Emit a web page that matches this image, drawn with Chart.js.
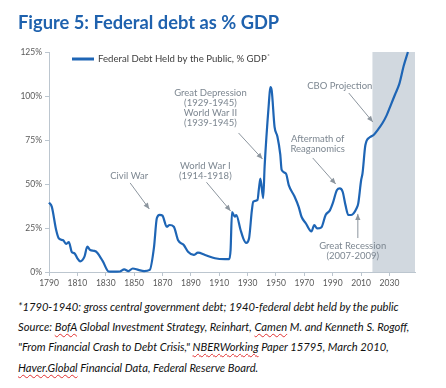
<!DOCTYPE html>
<html>
<head>
<meta charset="utf-8">
<script src="https://cdn.jsdelivr.net/npm/chart.js@4.4.1/dist/chart.umd.min.js"></script>
<style>
  html, body { margin: 0; padding: 0; background: #fff; }
  body { width: 446px; height: 388px; position: relative; overflow: hidden; font-family: Lato, "Open Sans", sans-serif; }
  #title { position: absolute; left: 18px; top: 11px; font: bold 18.3px Lato, sans-serif; color: #1F62AE; white-space: nowrap; }
  #wrap { position: absolute; left: 0; top: 0; width: 446px; height: 292px; }
  #notes { position: absolute; left: 18px; top: 297px; font: italic 11.2px Lato, sans-serif; color: #111; line-height: 20.2px; white-space: nowrap; }
  .sp { text-decoration: underline wavy #e03030; text-decoration-thickness: 1px; text-underline-offset: 2px; }
</style>
</head>
<body>
<div id="wrap"><canvas id="c"></canvas></div>
<div id="title">Figure 5: Federal debt as % GDP</div>
<div id="notes">
  <div>*1790-1940: gross central government debt; 1940-federal debt held by the public</div>
  <div>Source: <span class="sp">BofA</span> Global Investment Strategy, Reinhart, <span class="sp">Camen</span> M. and Kenneth S. Rogoff,</div>
  <div>"From Financial Crash to Debt Crisis," <span class="sp">NBERWorking</span> Paper 15795, March 2010,</div>
  <div><span class="sp">Haver.Global</span> Financial Data, Federal Reserve Board.</div>
</div>
<script>
// ---- data ----
const seriesLabel = "Federal Debt Held by the Public, % GDP";
const years = [1790,1792,1795,1797,1800,1802,1804,1806,1808,1810,1812,1815,1817,1819,1822,1824,1828,1832,1835,1840,1843,1846,1849,1853,1857,1861,1864,1866,1868,1870,1873,1875,1878,1881,1885,1888,1892,1895,1900,1907,1914,1917,1918,1919,1921,1922,1925,1927,1929,1931,1933,1934,1937,1938,1939,1941,1942,1945,1946,1947,1949,1951,1953,1954,1957,1959,1963,1966,1968,1971,1975,1977,1979,1982,1985,1988,1990,1993,1995,1997,1999,2001,2003,2007,2008,2010,2011,2013,2016,2017,2019,2022,2025,2028,2031,2034,2037,2040,2043];
const debtPct = [39.4,37,24,19,18,16,17,11.5,10.6,7.8,6,8.7,14.4,12.5,12,11,6,0.3,0.2,0.3,1.5,0.5,2,1.2,0.5,1.2,14,30.5,32.5,32,25.7,26.7,25.7,18,15.3,11.5,9.7,11,9.7,7.8,7.3,7.3,12.5,34,31.4,32.4,24,19,16.5,19,35,40,41,47.5,53,42,60,96,105,103,82.5,77,67,58,56,49.4,43,37,31.4,27.7,23,26.7,24.8,25.4,32.4,35,39,46.6,47.5,45.6,38,32.4,32.4,36.5,39,52,56,72,76.5,77,78,81,84.5,89,95,101,107,117,125];
const xTickLabels = [1790,1810,1830,1850,1870,1890,1910,1930,1950,1970,1990,2010,2030];
const yTickLabels = [0,25,50,75,100,125];
const projectionStart = 2018;
const projectionEnd = 2048;

// annotation texts, anchored in data coordinates (year, %)
const annotations = [
  { lines: ["Civil War"], at: [1846.5, 54.5], arrow: [[1847.2, 50.6], [1860.7, 35.8]] },
  { lines: ["World War I", "(1914-1918)"], at: [1900.2, 60.2], arrow: [[1901, 51], [1918, 34.7]] },
  { lines: ["Great Depression", "(1929-1945)", "World War II", "(1939-1945)"], at: [1903.8, 101.7], arrow: [[1923.6, 79], [1940.5, 64.2]] },
  { lines: ["Aftermath of", "Reaganomics"], at: [1979.4, 75.6], arrow: [[1975.9, 64.8], [1992.1, 50]] },
  { lines: ["CBO Projection"], at: [1995, 105.7], arrow: [[2001.3, 101.7], [2018.3, 85.2]] },
  { lines: ["Great Recession", "(2007-2009)"], at: [2004.1, 14.8], arrow: [[2007.7, 19.3], [2007.7, 33]] }
];

const axisColor = "#BCC6CF";
const labelColor = "#595959";
const annColor = "#7D8791";
const lineColor = "#1E65B5";

const shadePlugin = {
  id: 'shade',
  beforeDatasetsDraw(chart) {
    const {ctx, chartArea, scales: {x}} = chart;
    const x0 = x.getPixelForValue(projectionStart);
    const x1 = x.getPixelForValue(projectionEnd);
    ctx.save();
    ctx.fillStyle = "#D1D8DF";
    ctx.fillRect(x0, chartArea.top, x1 - x0, chartArea.bottom - chartArea.top);
    ctx.restore();
  }
};

function arrow(ctx, x1, y1, x2, y2) {
  ctx.beginPath();
  ctx.moveTo(x1, y1);
  ctx.lineTo(x2, y2);
  ctx.stroke();
  const a = Math.atan2(y2 - y1, x2 - x1);
  const L = 6, W = 2.6;
  ctx.beginPath();
  ctx.moveTo(x2, y2);
  ctx.lineTo(x2 - L * Math.cos(a) + W * Math.sin(a), y2 - L * Math.sin(a) - W * Math.cos(a));
  ctx.lineTo(x2 - L * Math.cos(a) - W * Math.sin(a), y2 - L * Math.sin(a) + W * Math.cos(a));
  ctx.closePath();
  ctx.fill();
}

const annPlugin = {
  id: 'ann',
  afterDraw(chart) {
    const {ctx, chartArea, scales: {x, y}} = chart;
    ctx.save();
    ctx.font = "9.5px Lato, sans-serif";
    ctx.fillStyle = annColor;
    ctx.strokeStyle = "#8C959E";
    ctx.lineWidth = 1;
    ctx.textAlign = "center";
    ctx.textBaseline = "middle";
    annotations.forEach(a => {
      const px = x.getPixelForValue(a.at[0]);
      const py = y.getPixelForValue(a.at[1]);
      a.lines.forEach((t, i) => ctx.fillText(t, px, py + i * 10));
      ctx.fillStyle = "#8C959E";
      arrow(ctx, x.getPixelForValue(a.arrow[0][0]), y.getPixelForValue(a.arrow[0][1]),
                 x.getPixelForValue(a.arrow[1][0]), y.getPixelForValue(a.arrow[1][1]));
      ctx.fillStyle = annColor;
    });
    // legend
    const lx = chartArea.left + 23, ly = chartArea.top + 7;
    ctx.strokeStyle = lineColor;
    ctx.lineWidth = 3;
    ctx.beginPath();
    ctx.moveTo(lx, ly); ctx.lineTo(lx + 22, ly); ctx.stroke();
    ctx.font = "9.6px Lato, sans-serif";
    ctx.fillStyle = "#404040";
    ctx.textAlign = "left";
    ctx.fillText(seriesLabel, lx + 26, ly);
    const w = ctx.measureText(seriesLabel).width;
    ctx.font = "6px Lato, sans-serif";
    ctx.fillText("*", lx + 26 + w + 0.5, ly - 3);
    ctx.restore();
  }
};

new Chart(document.getElementById('c'), {
  type: 'line',
  data: {
    datasets: [{
      label: seriesLabel,
      data: years.map((yr, i) => ({x: yr, y: debtPct[i]})),
      borderColor: lineColor,
      borderWidth: 2.2,
      pointRadius: 0,
      tension: 0,
      cubicInterpolationMode: 'monotone',
      clip: 2
    }]
  },
  options: {
    responsive: true,
    maintainAspectRatio: false,
    animation: false,
    layout: { padding: { top: 52, right: 31, left: 0, bottom: 0 } },
    plugins: { legend: { display: false }, tooltip: { enabled: false } },
    scales: {
      x: {
        type: 'linear', min: 1790, max: projectionEnd,
        afterBuildTicks: s => { s.ticks = xTickLabels.map(v => ({value: v})); },
        afterFit: s => { s.height = 20; },
        ticks: { color: labelColor, font: { family: 'Lato', size: 8.5 }, padding: 2, maxRotation: 0, autoSkip: false, callback: v => String(v) },
        grid: { display: true, drawOnChartArea: false, tickLength: 4, color: axisColor },
        border: { color: axisColor, width: 1 }
      },
      y: {
        min: 0, max: 125,
        afterBuildTicks: s => { s.ticks = yTickLabels.map(v => ({value: v})); },
        afterFit: s => { s.width = 49; },
        ticks: { color: labelColor, font: { family: 'Lato', size: 8.5 }, padding: 3, callback: v => v + '%' },
        grid: { display: true, drawOnChartArea: false, tickLength: 4, color: axisColor },
        border: { color: axisColor, width: 1 }
      }
    }
  },
  plugins: [shadePlugin, annPlugin]
});
</script>
</body>
</html>
